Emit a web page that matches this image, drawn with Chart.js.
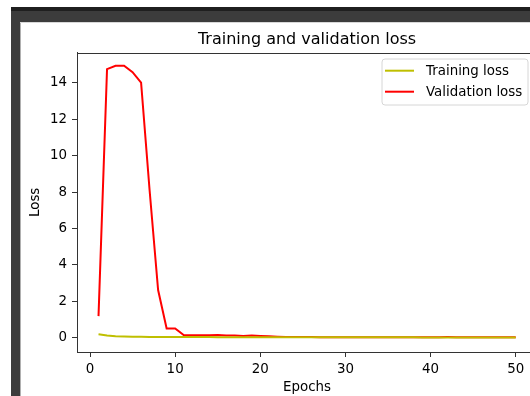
<!DOCTYPE html>
<html>
<head>
<meta charset="utf-8">
<script src="https://cdn.jsdelivr.net/npm/chart.js@4.4.0/dist/chart.umd.min.js"></script>
<style>
  html, body { margin:0; padding:0; background:#ffffff; width:530px; height:396px; overflow:hidden; position:relative; }
  #c { position:absolute; left:0; top:0; }
  .f { position:absolute; }
</style>
</head>
<body>
<canvas id="c" width="560" height="396" style="width:560px;height:396px"></canvas>
<div class="f" style="left:11px;top:7px;width:519px;height:4px;background:#1f1f1f"></div>
<div class="f" style="left:11px;top:11px;width:519px;height:11px;background:#3c3c3c"></div>
<div class="f" style="left:11px;top:11px;width:9px;height:385px;background:#3c3c3c"></div>
<div class="f" style="left:20px;top:22px;width:1px;height:374px;background:#b0b0b0"></div>
<div class="f" style="left:20px;top:22px;width:510px;height:1px;background:#d8d8d8"></div>
<script>
const epochs = [1,2,3,4,5,6,7,8,9,10,11,12,13,14,15,16,17,18,19,20,21,22,23,24,25,26,27,28,29,30,31,32,33,34,35,36,37,38,39,40,41,42,43,44,45,46,47,48,49,50];
const trainingLoss = [0.19,0.12,0.08,0.07,0.06,0.055,0.05,0.048,0.045,0.043,0.04,0.04,0.038,0.037,0.036,0.035,0.034,0.033,0.032,0.031,0.03,0.03,0.029,0.028,0.028,0.027,0.027,0.026,0.026,0.025,0.025,0.025,0.024,0.024,0.024,0.023,0.023,0.023,0.022,0.022,0.022,0.022,0.021,0.021,0.021,0.021,0.02,0.02,0.02,0.02];
const validationLoss = [1.19,14.75,14.93,14.93,14.58,14.01,8.1,2.62,0.51,0.51,0.15,0.14,0.14,0.14,0.15,0.13,0.12,0.1,0.12,0.1,0.08,0.06,0.05,0.04,0.04,0.04,0.035,0.035,0.035,0.035,0.035,0.035,0.035,0.035,0.035,0.035,0.035,0.035,0.035,0.035,0.035,0.04,0.035,0.035,0.035,0.035,0.035,0.035,0.035,0.035];
const xTickValues = [0,10,20,30,40,50];
const yTickValues = [0,2,4,6,8,10,12,14];
const seriesLabels = ['Training loss','Validation loss'];
const titleText = 'Training and validation loss';
const xTitle = 'Epochs';
const yTitle = 'Loss';

const FONT = "'DejaVu Sans', sans-serif";
const toXY = arr => arr.map((v,i)=>({x:epochs[i], y:v}));

const framePlugin = {
  id:'topSpine',
  afterDatasetsDraw(chart){
    const {ctx, chartArea:a} = chart;
    ctx.save();
    ctx.strokeStyle='#333'; ctx.lineWidth=1;
    ctx.beginPath(); ctx.moveTo(a.left, Math.round(a.top)+0.5); ctx.lineTo(a.right, Math.round(a.top)+0.5); ctx.stroke();
    ctx.beginPath(); ctx.moveTo(Math.round(a.right)+0.5, a.top); ctx.lineTo(Math.round(a.right)+0.5, a.bottom); ctx.stroke();
    ctx.restore();
  }
};

const legendPlugin = {
  id:'mplLegend',
  afterDraw(chart){
    const ctx = chart.ctx;
    const x0=382, y0=59, w=146, h=46, r=3;
    ctx.save();
    ctx.beginPath();
    ctx.moveTo(x0+r,y0); ctx.lineTo(x0+w-r,y0); ctx.quadraticCurveTo(x0+w,y0,x0+w,y0+r);
    ctx.lineTo(x0+w,y0+h-r); ctx.quadraticCurveTo(x0+w,y0+h,x0+w-r,y0+h);
    ctx.lineTo(x0+r,y0+h); ctx.quadraticCurveTo(x0,y0+h,x0,y0+h-r);
    ctx.lineTo(x0,y0+r); ctx.quadraticCurveTo(x0,y0,x0+r,y0); ctx.closePath();
    ctx.fillStyle='rgba(255,255,255,0.8)'; ctx.fill();
    ctx.strokeStyle='#d6d6d6'; ctx.lineWidth=1; ctx.stroke();
    const rows=[70.7,91.7];
    chart.data.datasets.forEach((ds,i)=>{
      ctx.beginPath();
      ctx.moveTo(385,rows[i]); ctx.lineTo(414,rows[i]);
      ctx.strokeStyle=ds.borderColor; ctx.lineWidth=2; ctx.stroke();
      ctx.fillStyle='#000'; ctx.font='13.4px '+FONT; ctx.textBaseline='middle'; ctx.textAlign='left';
      ctx.fillText(ds.label,426,rows[i]+0.5);
    });
    ctx.restore();
  }
};

new Chart(document.getElementById('c'), {
  type:'line',
  data:{
    datasets:[
      {label:seriesLabels[0], data:toXY(trainingLoss), borderColor:'#bfbf00', borderWidth:2, pointRadius:0, tension:0, fill:false},
      {label:seriesLabels[1], data:toXY(validationLoss), borderColor:'#ff0000', borderWidth:2, pointRadius:0, tension:0, fill:false}
    ]
  },
  options:{
    responsive:false, animation:false, devicePixelRatio:1,
    layout:{padding:{left:21,top:0,right:23,bottom:0}},
    plugins:{
      legend:{display:false}, tooltip:{enabled:false},
      title:{display:true, fullSize:false, text:titleText, color:'#000', font:{family:FONT,size:16,weight:'normal',lineHeight:1.2}, padding:{top:30.4,bottom:3.1}}
    },
    scales:{
      x:{
        type:'linear', min:-1.527, max:52.5,
        afterBuildTicks(s){ s.ticks = xTickValues.map(v=>({value:v})); },
        afterFit(s){ s.height = 44; },
        grid:{display:true, drawOnChartArea:false, drawTicks:true, tickLength:5, color:'#333', lineWidth:1},
        border:{display:true, color:'#333', width:1},
        ticks:{color:'#000', font:{family:FONT,size:13.4}, padding:4, maxRotation:0, autoSkip:false},
        title:{display:true, text:xTitle, color:'#000', font:{family:FONT,size:13.4,lineHeight:1.2}, padding:{top:0,bottom:0}}
      },
      y:{
        type:'linear', min:-0.78, max:15.65,
        afterBuildTicks(s){ s.ticks = yTickValues.map(v=>({value:v})); },
        afterFit(s){ s.width = 56; },
        grid:{display:true, drawOnChartArea:false, drawTicks:true, tickLength:5, color:'#333', lineWidth:1},
        border:{display:true, color:'#333', width:1},
        ticks:{color:'#000', font:{family:FONT,size:13.4}, padding:5, autoSkip:false},
        title:{display:true, text:yTitle, color:'#000', font:{family:FONT,size:13.4,lineHeight:1.2}, padding:{top:6,bottom:0}}
      }
    }
  },
  plugins:[framePlugin, legendPlugin]
});
</script>
</body>
</html>
